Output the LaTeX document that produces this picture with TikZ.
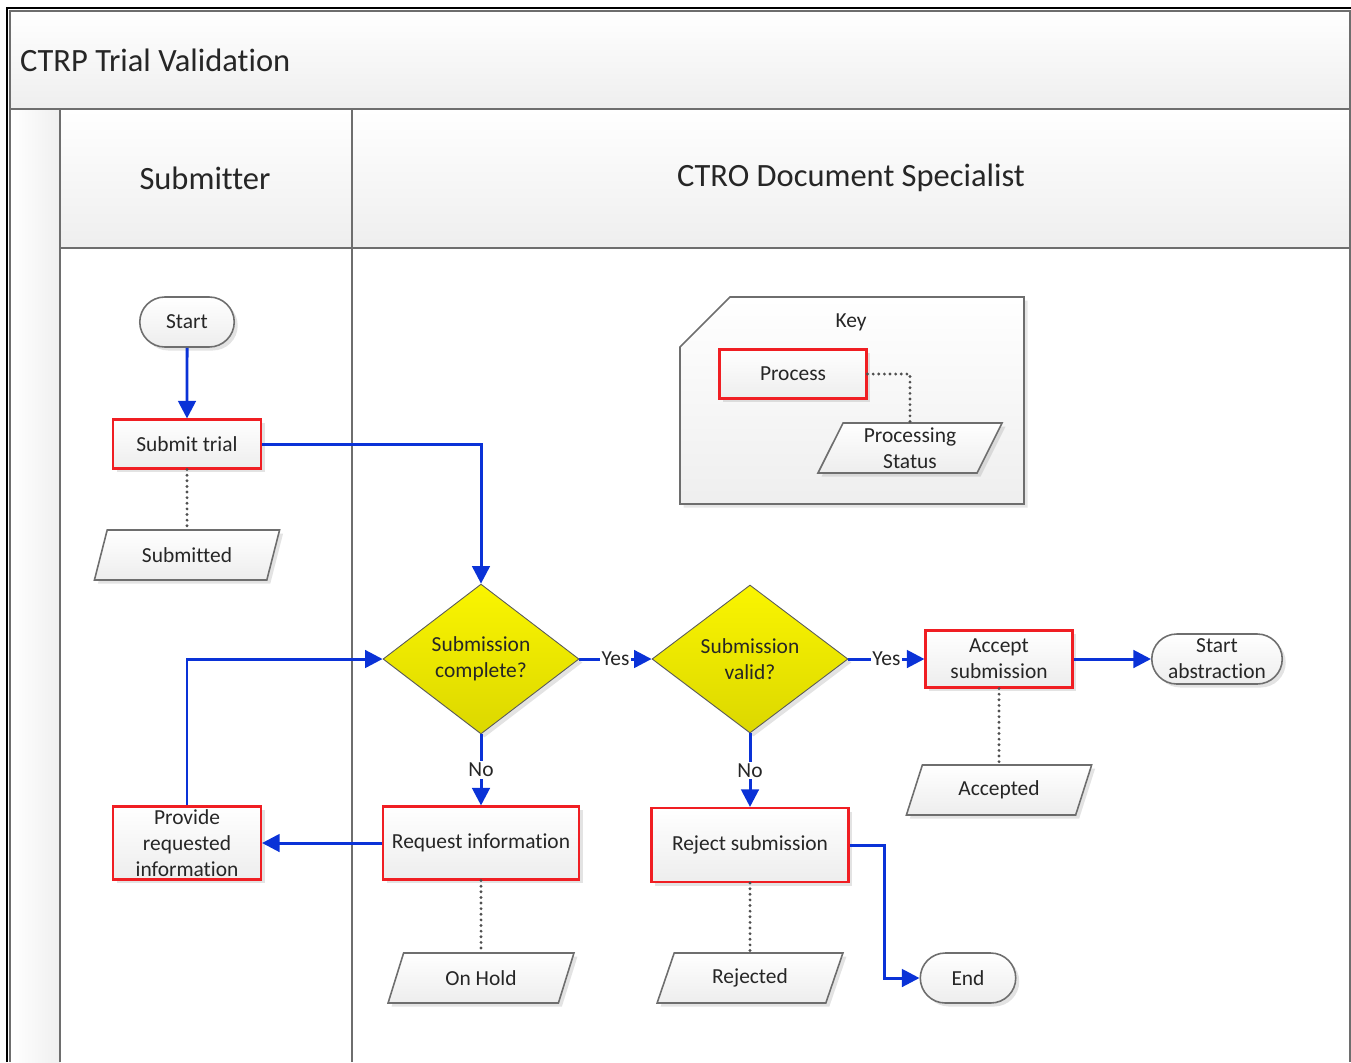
\documentclass[tikz,border=0pt]{standalone}
\usepackage{fontspec}
\setmainfont{Carlito}[Ligatures=NoCommon]
\usepackage{tikz}
\usetikzlibrary{shapes.geometric, shapes.misc, arrows.meta, shadows, calc}
\definecolor{flowblue}{RGB}{10, 50, 215}
\definecolor{procred}{RGB}{240, 30, 35}
\definecolor{lanegray}{RGB}{110, 110, 110}
\definecolor{dotgray}{RGB}{80, 80, 80}
\definecolor{decyellow}{RGB}{250, 245, 0}

\tikzset{
  base/.style={font=\fontsize{12.2}{14.7}\selectfont, text=black!85, inner sep=1pt, align=center,
    drop shadow={shadow xshift=2pt, shadow yshift=-2pt, opacity=0.22}},
  process/.style={base, rectangle, draw=procred, line width=1.2pt, top color=white, bottom color=gray!14},
  terminal/.style={base, rounded rectangle, draw=lanegray, line width=0.9pt, top color=white, bottom color=gray!14, minimum height=1cm},
  status/.style={base, trapezium, trapezium left angle=68, trapezium right angle=112, trapezium stretches=true,
    draw=lanegray, line width=0.9pt, top color=white, bottom color=gray!14, minimum height=1cm, minimum width=3.72cm},
  decision/.style={base, diamond, draw=gray!70!black, line width=0.5pt, top color=decyellow, bottom color=decyellow!88!black,
    minimum width=3.92cm, minimum height=2.96cm},
  flow/.style={draw=flowblue, line width=1.7pt, -{Triangle[length=10pt, width=10pt]}},
  statuslink/.style={draw=dotgray, line width=1.8pt, line cap=round, dash pattern=on 0pt off 3.2pt},
  answer/.style={font=\fontsize{12.2}{14}\selectfont, text=black!85, fill=white, inner sep=1pt},
  lanetext/.style={font=\fontsize{18.5}{22}\selectfont, text=black!85},
}

\begin{document}
\begin{tikzpicture}[x=0.02cm, y=-0.02cm]
  \useasboundingbox (0,0) rectangle (1351,1062);

  % pool and lanes
  \shade[top color=white, bottom color=gray!13] (10,11) rectangle (1350,109);
  \shade[left color=white, right color=gray!12] (10,109) rectangle (60,1062);
  \shade[top color=white, bottom color=gray!13] (60,109) rectangle (1350,248);
  \draw[black, line width=1.2pt] (7,1062) |- (1351,8);
  \draw[lanegray, line width=1pt] (10,1062) |- (1350,11) -- (1350,1062);
  \draw[lanegray, line width=1pt] (10,109) -- (1350,109) (60,248) -- (1350,248);
  \draw[lanegray, line width=1pt] (60,109) -- (60,1062) (352,109) -- (352,1062);
  \node[lanetext, anchor=west] (title) at (14,60) {CTRP Trial Validation};
  \node[lanetext] (submitterlane) at (205,178) {Submitter};
  \node[lanetext] (ctrolane) at (851,178) {CTRO Document Specialist};

  % key
  \shade[top color=white, bottom color=gray!13, drop shadow={shadow xshift=2pt, shadow yshift=-2pt, opacity=0.2}]
    (730,297) -- (1024,297) -- (1024,504) -- (680,504) -- (680,347) -- cycle;
  \draw[lanegray, line width=0.9pt] (730,297) -- (1024,297) -- (1024,504) -- (680,504) -- (680,347) -- cycle;
  \node[answer, fill=none] (keylabel) at (851,322) {Key};
  \node[process, minimum width=2.94cm, minimum height=0.98cm] (keyproc) at (793,374) {Process};
  \node[status, minimum width=3.70cm] (keystatus) at (910,448) {Processing\\Status};

  % submitter
  \node[terminal, minimum width=1.96cm] (start) at (187,322) {Start};
  \node[process, minimum width=2.96cm, minimum height=0.98cm] (submit) at (187,444) {Submit trial};
  \node[status] (submitted) at (187,555) {Submitted};
  \node[process, minimum width=2.96cm, minimum height=1.46cm] (provide) at (187,843) {Provide\\requested\\information};

  % document specialist
  \node[decision] (complete) at (481,659) {Submission\\complete?};
  \node[decision] (valid) at (750,659) {Submission\\valid?};
  \node[process, minimum width=2.94cm, minimum height=1.14cm] (accept) at (999,659) {Accept\\submission};
  \node[terminal, minimum width=2.68cm] (abstract) at (1217,659) {Start\\abstraction};
  \node[status] (accepted) at (999,790) {Accepted};
  \node[process, minimum width=3.92cm, minimum height=1.46cm] (request) at (481,843) {Request information};
  \node[process, minimum width=3.94cm, minimum height=1.48cm] (reject) at (750,845) {Reject submission};
  \node[status] (onhold) at (481,978) {On Hold};
  \node[status] (rejected) at (750,978) {Rejected};
  \node[terminal, minimum width=1.98cm] (end) at (968,978) {End};

  % status links
  \draw[statuslink] (keyproc.east) -| (keystatus.north);
  \draw[statuslink] (submit) -- (submitted);
  \draw[statuslink] (accept) -- (accepted);
  \draw[statuslink] (request) -- (onhold);
  \draw[statuslink] (reject) -- (rejected);

  % flow
  \draw[flow] (start) -- (submit);
  \draw[flow] (submit.east) -| (complete.north);
  \draw[flow] (complete) -- node[answer] {Yes} (valid);
  \draw[flow] (valid) -- node[answer] {Yes} (accept);
  \draw[flow] (complete) -- node[answer] {No} (request);
  \draw[flow] (valid) -- node[answer] {No} (reject);
  \draw[flow] (accept) -- (abstract);
  \draw[flow] (request) -- (provide);
  \draw[flow] (provide.north) |- (complete.west);
  \draw[flow] (reject.east) -| ($(reject.east)!0.5!(end.west)$) |- (end.west);
\end{tikzpicture}
\end{document}
